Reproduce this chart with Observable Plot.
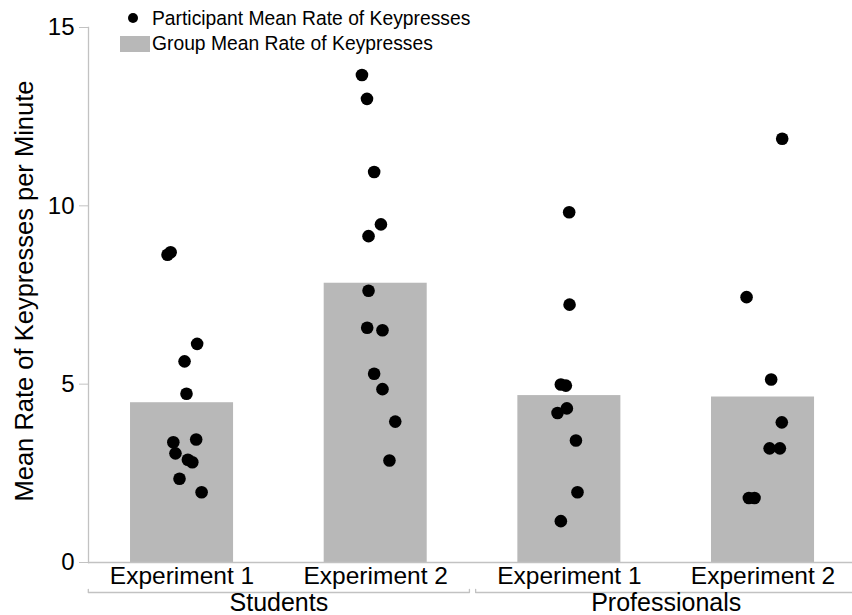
<!DOCTYPE html>
<html>
<head>
<meta charset="utf-8">
<script src="https://cdn.jsdelivr.net/npm/d3@7"></script>
<script src="https://cdn.jsdelivr.net/npm/@observablehq/plot@0.6"></script>
<style>
  html, body { margin: 0; padding: 0; background: #fff; overflow: hidden; }
  #chart { position: relative; width: 852px; height: 615px;
           font-family: "Liberation Sans", Arial, Helvetica, sans-serif; }
  #chart svg { display: block; }
  .legend { position: absolute; left: 0; top: 0; font-size: 19.3px; line-height: 1; color: #000; }
  .legend .item { position: absolute; white-space: nowrap; }
  .legend .dot { position: absolute; left: 128px; top: 13px; width: 10px; height: 10px;
                 border-radius: 50%; background: #000; }
  .legend .swatch { position: absolute; left: 120px; top: 36px; width: 30px; height: 16px;
                    background: #b8b8b8; }
</style>
</head>
<body>
<div id="chart">
  <div class="legend">
    <div class="dot"></div>
    <div class="item" style="left:152px; top:9px;">Participant Mean Rate of Keypresses</div>
    <div class="swatch"></div>
    <div class="item" style="left:152px; top:34px;">Group Mean Rate of Keypresses</div>
  </div>
</div>
<script>
// Conditions, in plotting order
const groupNames = ["Students", "Professionals"];
const conditionGroup = ["Students", "Students", "Professionals", "Professionals"];
const conditionExperiment = ["Experiment 1", "Experiment 2", "Experiment 1", "Experiment 2"];

// Group mean keypress rate (per minute) for each condition
const groupMeanRates = [4.48, 7.83, 4.68, 4.64];

// Participant mean keypress rates, with horizontal jitter (fraction of a slot)
const studentsExp1Rates  = [8.63, 8.70, 6.13, 5.64, 4.73, 3.37, 3.45, 3.06, 2.88, 2.81, 2.35, 1.97];
const studentsExp1Jitter = [-0.075, -0.059, 0.078, 0.013, 0.023, -0.045, 0.073, -0.034, 0.030, 0.053, -0.013, 0.101];

const studentsExp2Rates  = [13.67, 13.00, 10.95, 9.48, 9.15, 7.62, 6.58, 6.51, 5.29, 4.86, 3.95, 2.86];
const studentsExp2Jitter = [-0.071, -0.045, -0.008, 0.027, -0.037, -0.037, -0.044, 0.035, -0.008, 0.035, 0.101, 0.071];

const professionalsExp1Rates  = [9.82, 7.23, 4.99, 4.96, 4.32, 4.19, 3.42, 1.97, 1.16];
const professionalsExp1Jitter = [-0.001, 0.001, -0.044, -0.018, -0.013, -0.061, 0.034, 0.042, -0.044];

const professionalsExp2Rates  = [11.88, 7.44, 5.13, 3.93, 3.20, 3.20, 1.81, 1.81];
const professionalsExp2Jitter = [0.099, -0.085, 0.042, 0.097, 0.034, 0.087, -0.073, -0.044];

const participantRates  = [studentsExp1Rates, studentsExp2Rates, professionalsExp1Rates, professionalsExp2Rates];
const participantJitter = [studentsExp1Jitter, studentsExp2Jitter, professionalsExp1Jitter, professionalsExp2Jitter];

const yTicks = [0, 5, 10, 15];
const yTitle = "Mean Rate of Keypresses per Minute";

// Layout constants (in slot units along x)
const BAR_HALF = 0.266;    // half the bar width
const HALF_SLOT = 0.484;   // half the width of a group bracket per slot
const BRACKET_LIFT = 0.09; // height of the bracket end hooks (y units)

const FONT = '"Liberation Sans", Arial, Helvetica, sans-serif';
const AXIS_GRAY = "#c2c2c2";

// Build tables
const slots = conditionGroup.map((group, i) => ({
  slot: i + 1,
  group,
  experiment: conditionExperiment[i],
  mean: groupMeanRates[i]
}));

const participants = participantRates.flatMap((rates, i) =>
  rates.map((rate, j) => ({slot: i + 1, x: i + 1 + participantJitter[i][j], rate}))
);

const brackets = groupNames.flatMap((group) => {
  const s = slots.filter((d) => d.group === group).map((d) => d.slot);
  const x1 = d3.min(s) - HALF_SLOT, x2 = d3.max(s) + HALF_SLOT;
  return [
    {group, x: x1, y: BRACKET_LIFT}, {group, x: x1, y: 0},
    {group, x: x2, y: 0}, {group, x: x2, y: BRACKET_LIFT}
  ];
});

const groupLabels = groupNames.map((group) => ({
  group,
  x: d3.mean(slots.filter((d) => d.group === group), (d) => d.slot)
}));

const chart = Plot.plot({
  width: 852,
  height: 615,
  marginTop: 27,
  marginBottom: 53,
  marginLeft: 88,
  marginRight: 0,
  style: {fontFamily: FONT, fontSize: "24px", background: "white", overflow: "visible"},
  x: {type: "linear", domain: [0.517, 4.462], axis: null},
  y: {domain: [0, 15], axis: null},
  marks: [
    Plot.rect(slots, {
      x1: (d) => d.slot - BAR_HALF,
      x2: (d) => d.slot + BAR_HALF,
      y1: () => 0,
      y2: "mean",
      fill: "#b8b8b8"
    }),
    Plot.ruleY([0], {stroke: AXIS_GRAY, strokeWidth: 1.3}),
    Plot.frame({anchor: "left", stroke: AXIS_GRAY, strokeWidth: 1.3}),
    Plot.axisY({
      ticks: yTicks, tickSize: 9, tickPadding: 5,
      stroke: AXIS_GRAY, fill: "black", fontSize: 24, label: null
    }),
    Plot.axisX({
      ticks: slots.map((d) => d.slot),
      tickFormat: (v) => slots.find((d) => d.slot === v).experiment,
      tickSize: 0, tickPadding: 4, fill: "black", fontSize: 24.5, label: null
    }),
    Plot.line(brackets, {x: "x", y: "y", z: "group", dy: 30, stroke: AXIS_GRAY, strokeWidth: 1.3}),
    Plot.text(groupLabels, {
      x: "x", text: "group", frameAnchor: "bottom", lineAnchor: "top",
      dy: 31, fontSize: 25, fill: "black"
    }),
    Plot.text([yTitle], {
      text: (d) => d, frameAnchor: "left", textAnchor: "middle", rotate: -90,
      dx: -64, dy: -4, fontSize: 25.5, fill: "black"
    }),
    Plot.dot(participants, {x: "x", y: "rate", r: 6.3, fill: "black", stroke: "none"})
  ]
});

document.getElementById("chart").prepend(chart);
</script>
</body>
</html>
